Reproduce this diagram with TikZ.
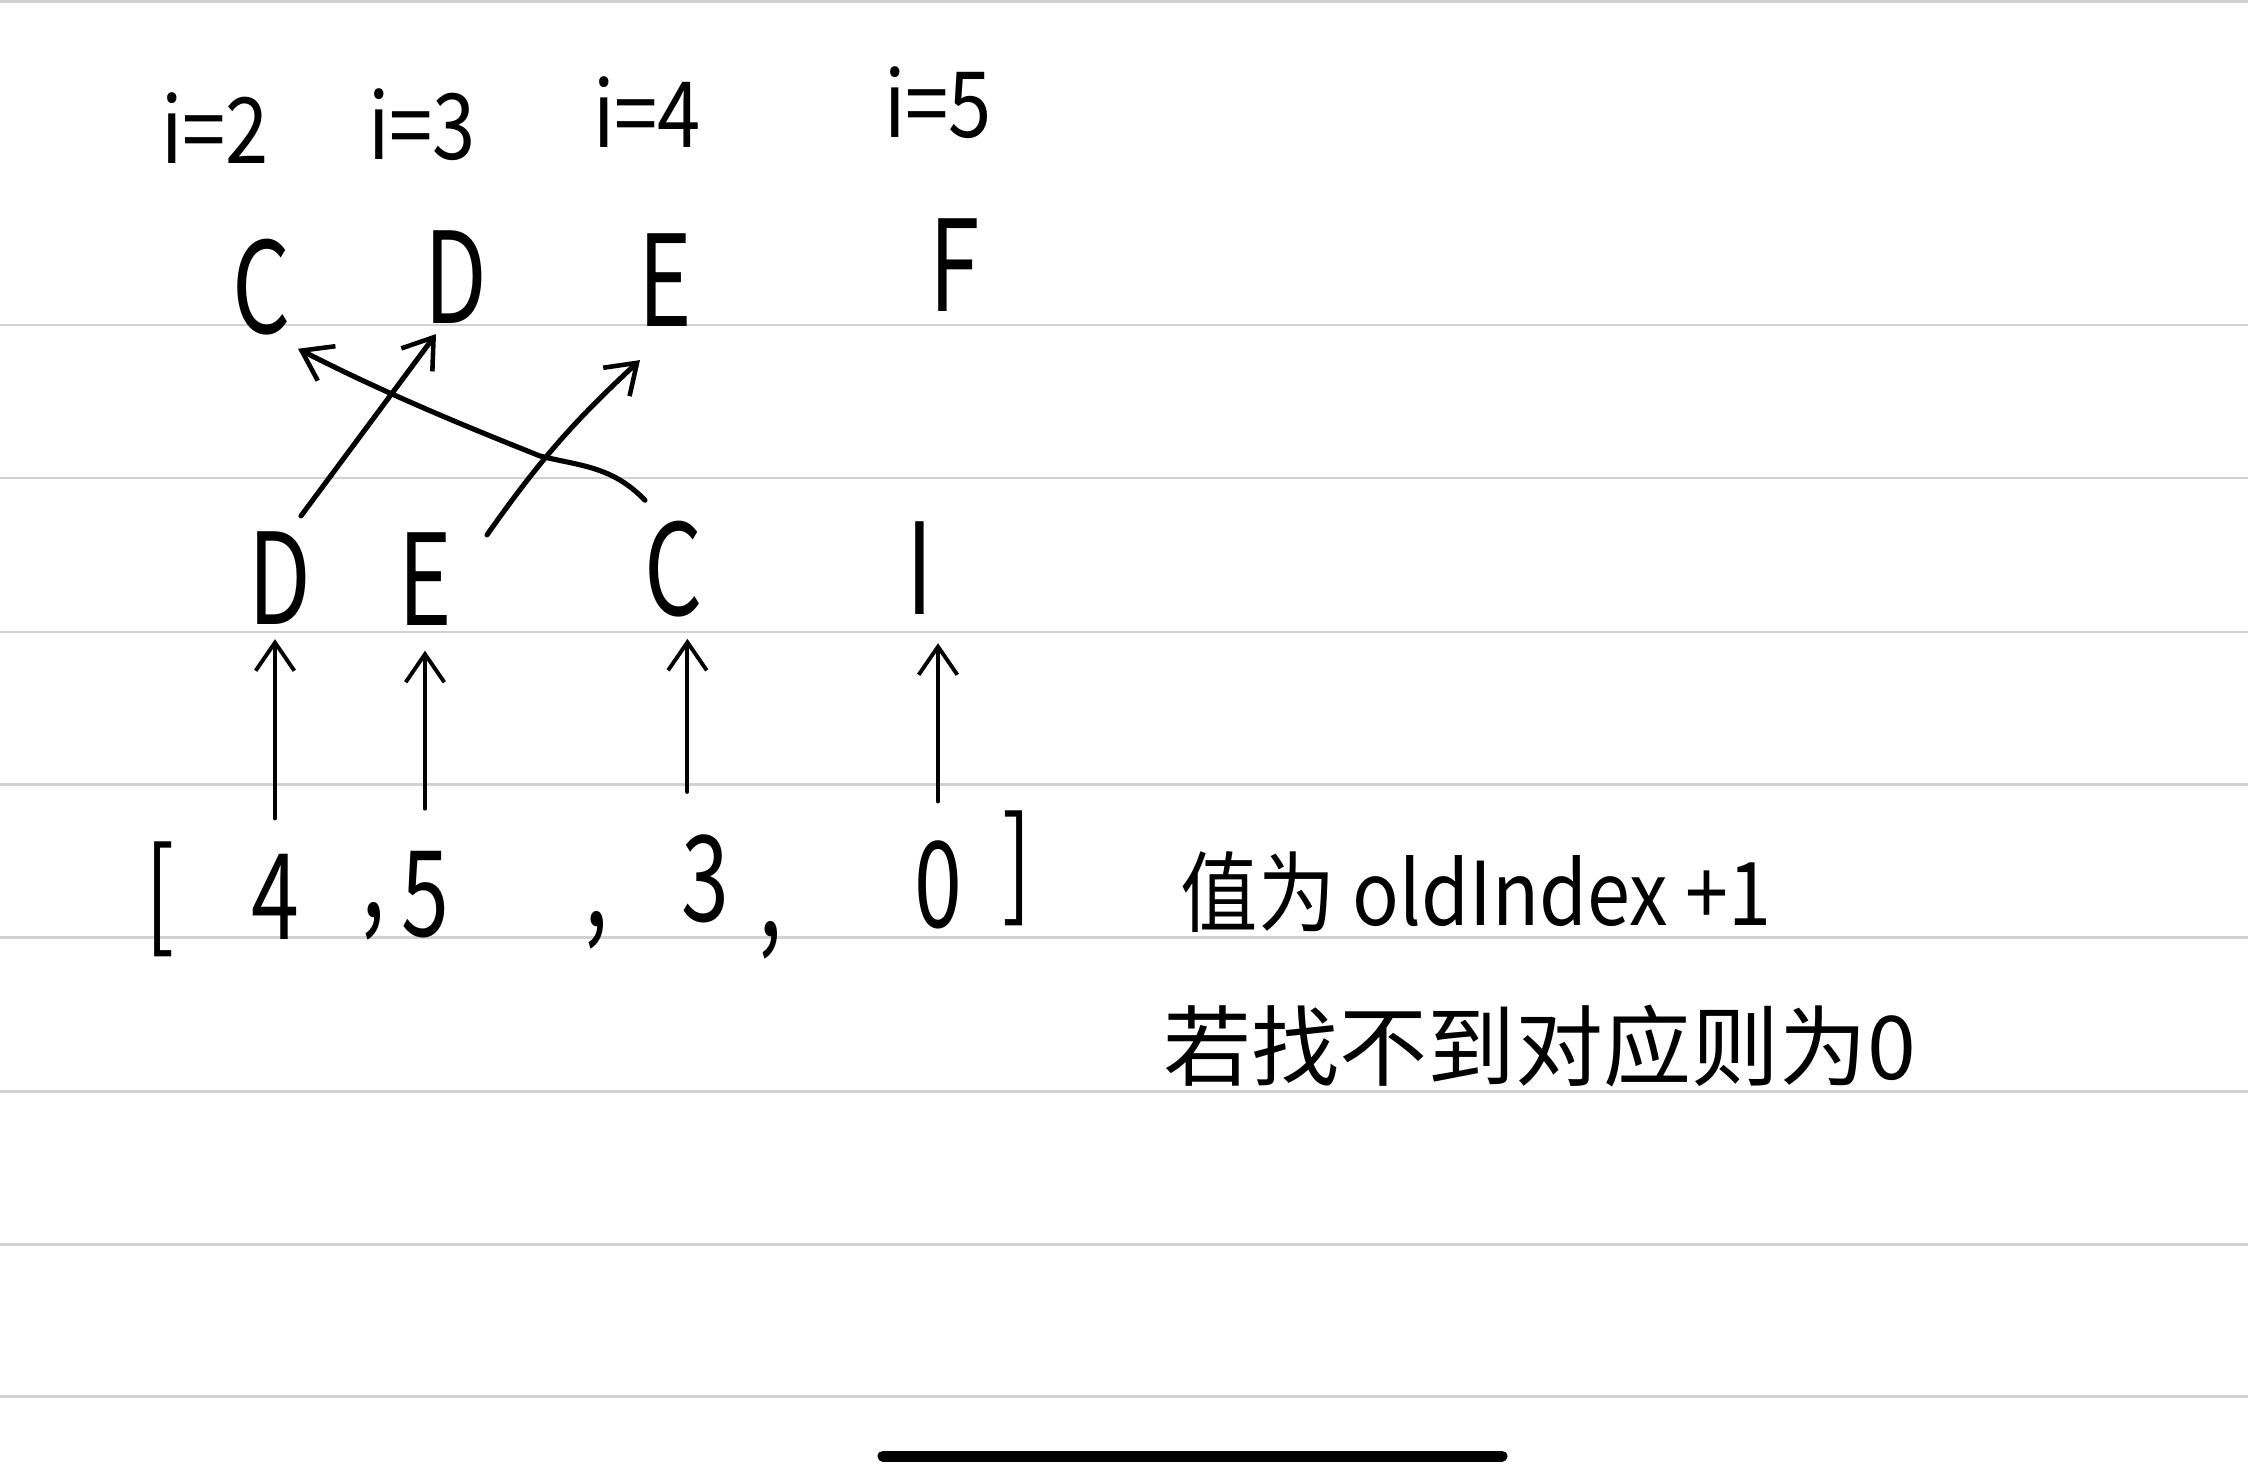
\documentclass[tikz,border=0pt]{standalone}
\usepackage{fontspec}
\usepackage{graphicx}
\setmainfont{Noto Sans CJK SC}
\usetikzlibrary{arrows.meta,calc}
\newcommand{\nartxt}[2][0.72]{\scalebox{#1}[1]{#2}}
\begin{document}
\begin{tikzpicture}[x=0.01cm,y=-0.01cm,
  rule/.style={draw=black!18, line width=0.85pt},
  lab/.style={inner sep=0pt, font=\fontsize{26}{30}\selectfont},
  let/.style={inner sep=0pt, font=\fontsize{36}{40}\selectfont},
  num/.style={inner sep=0pt, font=\fontsize{34}{38}\selectfont},
  note/.style={inner sep=0pt, anchor=west, font=\fontsize{25}{30}\selectfont},
  arr/.style={line width=1.1pt, line cap=round, -{Straight Barb[length=8pt,width=11pt,line width=1.1pt]}},
  xarr/.style={line width=1.45pt, line cap=round, -{Straight Barb[length=8pt,width=11pt,line width=1.3pt]}},
]
\useasboundingbox (0,0) rectangle (2248,1476);
\fill[white] (0,0) rectangle (2248,1476);
\foreach \y in {1.5,325,478,632,784,937,1091,1244,1396} \draw[rule] (0,\y) -- (2248,\y);

% index labels
\node[lab] (i2) at (215,128) {\nartxt[0.85]{i=2}};
\node[lab] (i3) at (422,125) {\nartxt[0.85]{i=3}};
\node[lab] (i4) at (647,112) {\nartxt[0.85]{i=4}};
\node[lab] (i5) at (938,103) {\nartxt[0.85]{i=5}};

% top row
\node[let] (tC) at (262,287) {\nartxt{C}};
\node[let] (tD) at (456,277) {\nartxt{D}};
\node[let] (tE) at (665,280) {\nartxt{E}};
\node[let] (tF) at (955,265) {\nartxt{F}};

% middle row
\node[let] (mD) at (280,578) {\nartxt{D}};
\node[let] (mE) at (425,579) {\nartxt{E}};
\node[let] (mC) at (674,569) {\nartxt{C}};
\node[let] (mI) at (920,568) {\nartxt{I}};

% array
\node[num] (lb) at (160,899) {\nartxt{[}};
\node[num] (n4) at (275,897) {\nartxt{4}};
\node[num] (c1) at (373,921) {\nartxt{,}};
\node[num] (n5) at (425,895) {\nartxt{5}};
\node[num] (c2) at (596,930) {\nartxt{,}};
\node[num] (n3) at (705,879) {\nartxt{3}};
\node[num] (c3) at (770,940) {\nartxt{,}};
\node[num] (n0) at (938,885) {\nartxt{0}};
\node[num] (rb) at (1017,868) {\nartxt{]}};

% notes
\node[note] (note1) at (1180,892) {\nartxt[0.88]{值为 oldIndex +1}};
\node[note] (note2) at (1163,1046) {若找不到对应则为0};

% vertical arrows
\draw[arr, shorten <=10pt, shorten >=4pt] (n4.north) -- (n4.north |- mD.south);
\draw[arr, shorten <=12pt, shorten >=7pt] (n5.north) -- (n5.north |- mE.south);
\draw[arr, shorten <=12pt, shorten >=6pt] ([xshift=-5pt]n3.north) -- ([xshift=-5pt]n3.north |- mC.south);
\draw[arr, shorten <=11pt, shorten >=8pt] (n0.north) -- (n0.north |- mI.south);

% crossing arrows
\draw[xarr] ($(mD.north)+(21,-15)$) -- ($(tD.south)+(-20,10)$);
\draw[xarr] ($(mE.north)+(62,3)$) to[bend left=6] ($(tE.south)+(-25,33)$);
\draw[xarr] ($(mC.north)+(-29,-20)$) .. controls (612,466) and (580,466) .. (540,456)
  .. controls (480,432) and (390,396) .. ($(tC.south)+(36,13)$);

% home indicator
\draw[line width=0.11cm, line cap=round] (883,1456) -- (1502,1456);
\end{tikzpicture}
\end{document}
